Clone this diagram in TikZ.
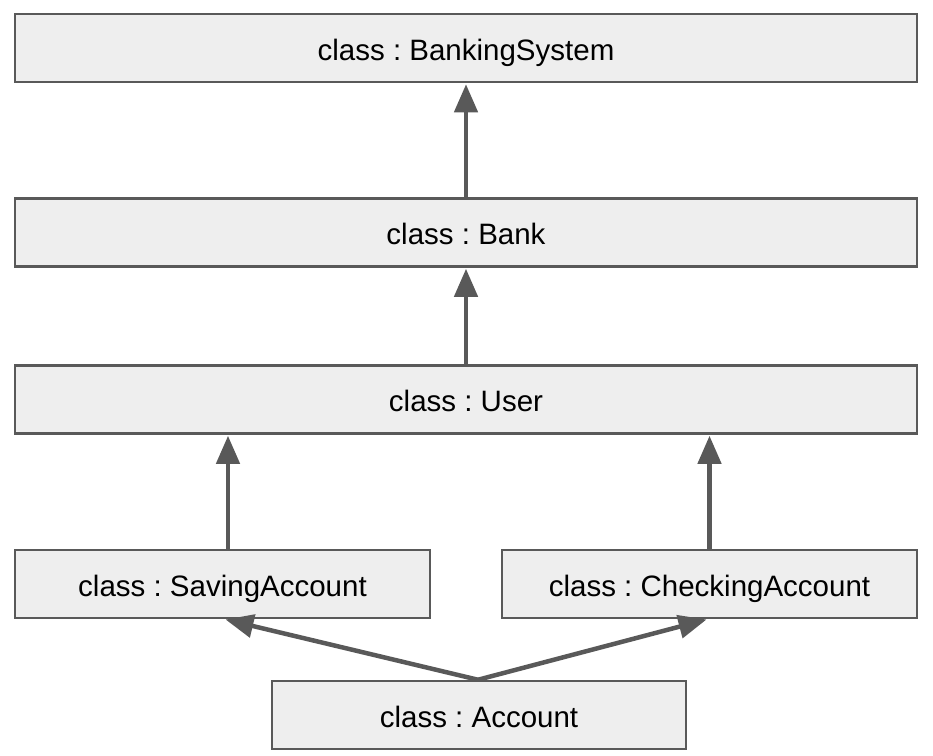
\documentclass[tikz,border=0pt]{standalone}
\usepackage{fontspec}
\setmainfont{Liberation Sans}
\frenchspacing
\usetikzlibrary{arrows.meta}
\definecolor{boxgray}{HTML}{EEEEEE}
\definecolor{linegray}{HTML}{595959}

\begin{document}
\begin{tikzpicture}[x=1pt,y=-1pt,
  classbox/.style={draw=linegray,fill=boxgray,line width=2.5pt,minimum height=68pt,inner sep=0pt,
    text height=24pt,text depth=0pt,font=\fontsize{29.5}{34}\selectfont},
  inherit/.style={draw=linegray,line width=4.5pt,-{Triangle[length=28pt,width=23pt]},shorten >=1pt}]
\useasboundingbox (0,0) rectangle (933,755);

\node[classbox,minimum width=902pt] (sys) at (466,48) {class : BankingSystem};
\node[classbox,minimum width=902pt] (bank) at (466,232.5) {class : Bank};
\node[classbox,minimum width=902pt] (user) at (466,399.5) {class : User};
\node[classbox,minimum width=415pt] (saving) at (222.5,584) {class : SavingAccount};
\node[classbox,minimum width=415pt] (checking) at (709.5,584) {class : CheckingAccount};
\node[classbox,minimum width=414pt] (account) at (479,715) {class : Account};

\draw[inherit] (bank.north) -- (sys.south);
\draw[inherit] (user.north) -- (bank.south);

\draw[inherit] ([xshift=5.5pt]saving.north) -- ([xshift=5.5pt]saving.north |- user.south);
\draw[inherit] (checking.north) -- (checking.north |- user.south);

\draw[inherit] ([xshift=-1pt]account.north) -- ([xshift=2pt]saving.south);
\draw[inherit] ([xshift=-1pt]account.north) -- ([xshift=-2pt]checking.south);

\end{tikzpicture}
\end{document}
